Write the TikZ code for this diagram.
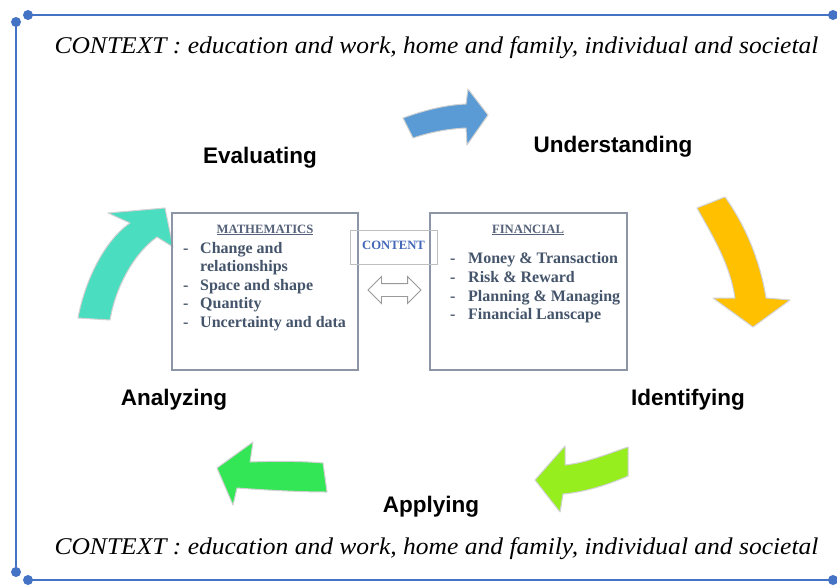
\documentclass[tikz,border=0pt]{standalone}
\usepackage{fontspec}
\setmainfont{Liberation Serif}
\newfontfamily\labelfont{Liberation Sans}
\usetikzlibrary{shapes.arrows}
\definecolor{framec}{HTML}{4472C4}
\definecolor{bluearr}{HTML}{5B9BD5}
\definecolor{orangearr}{HTML}{FFC000}
\definecolor{limearr}{HTML}{96EE1E}
\definecolor{greenarr}{HTML}{33E655}
\definecolor{tealarr}{HTML}{4BDDC0}
\definecolor{itemc}{HTML}{44546A}
\definecolor{headc}{HTML}{55627A}
\definecolor{boxc}{HTML}{8C96A6}
\definecolor{contentc}{HTML}{4468B8}
\begin{document}
\begin{tikzpicture}[x=1pt,y=-1pt,
  frameline/.style={draw=framec, line width=2.5pt},
  framedot/.style={fill=framec},
  arrshape/.style={draw=black!18, line width=1pt, line join=round},
  boxnode/.style={draw=boxc, line width=1.1pt, inner sep=0pt, outer sep=0pt, anchor=north west},
  lbl/.style={font=\labelfont\bfseries\fontsize{22.5}{26}\selectfont, anchor=base, inner sep=0pt},
  ctx/.style={font=\itshape\fontsize{24}{28}\selectfont, anchor=base, inner sep=0pt},
  item/.style={font=\bfseries\fontsize{16}{18.5}\selectfont, text=itemc, anchor=base west, inner sep=0pt},
  head/.style={font=\bfseries\fontsize{12.7}{15}\selectfont, text=headc, anchor=base, inner sep=0pt}
]
\useasboundingbox (0,0) rectangle (837,587);
\fill[white] (0,0) rectangle (837,587);

% frame
\coordinate (tl1) at (16,22);
\coordinate (tl2) at (28,15);
\coordinate (tr) at (833,15);
\coordinate (bl1) at (16,572);
\coordinate (bl2) at (28,580);
\coordinate (br) at (833,580);
\draw[frameline] (tl2) -- (tr);
\draw[frameline] (tl1) -- (bl1);
\draw[frameline] (bl2) -- (br);
\foreach \p in {tl1,tl2,tr,bl1,bl2,br} \fill[framedot] (\p) circle (5);

% context lines
\node[ctx] (ctxtop) at (436.5,53) {\scalebox{1.063}[1]{CONTEXT : education and work, home and family, individual and societal}};
\node[ctx] (ctxbot) at (436.5,554) {\scalebox{1.063}[1]{CONTEXT : education and work, home and family, individual and societal}};

% stage labels
\node[lbl] (eval) at (260,163) {Evaluating};
\node[lbl] (under) at (613,152) {Understanding};
\node[lbl] (ident) at (688,405) {Identifying};
\node[lbl] (anal) at (174,405) {Analyzing};
\node[lbl] (apply) at (431,512) {Applying};

% cycle arrows
\fill[bluearr, arrshape] (403,118) .. controls (425,110) and (445,105) .. (466,104) -- (468,89) -- (488,115) -- (467,145) -- (466,128) .. controls (445,129) and (428,133) .. (413,138) -- cycle;
\fill[orangearr, arrshape] (697,208) .. controls (715,240) and (730,265) .. (735,298) -- (713,298) -- (753,327) -- (790,300) -- (766,298) .. controls (760,260) and (745,225) .. (725,197) -- cycle;
\fill[limearr, arrshape] (628,447) .. controls (605,455) and (585,463) .. (565,465) -- (565,446) -- (535,480) -- (560,512) -- (563,494) .. controls (585,492) and (607,485) .. (628,476) -- cycle;
\fill[greenarr, arrshape] (323,463) .. controls (300,461) and (275,461) .. (250,462) -- (253,442) -- (217,468) -- (233,505) -- (237,488) .. controls (265,490) and (300,492) .. (327,492) -- cycle;
\fill[tealarr, arrshape] (78,318) .. controls (85,280) and (105,240) .. (130,223) -- (108,213) -- (165,208) -- (173,247) -- (157,237) .. controls (132,255) and (115,290) .. (110,320) -- cycle;

% content boxes
\node[boxnode, minimum width=186pt, minimum height=157pt] (math) at (172,213) {};
\node[boxnode, minimum width=197pt, minimum height=157pt] (fin) at (430,213) {};
\node[draw=black!25, line width=1pt, minimum width=87pt, minimum height=34pt, inner sep=0pt] (content) at (393.5,247) {};
\node[font=\bfseries\fontsize{12.7}{15}\selectfont, text=contentc, inner sep=0pt, anchor=base] (contentlbl) at (393.5,249) {CONTENT};
\node[double arrow, draw=black!40, fill=white, line width=0.9pt, inner sep=6pt, minimum height=53pt, minimum width=26pt, double arrow head extend=7pt] (dbl) at (394.5,290) {};

\node[head] (mathhead) at (265,233) {\underline{MATHEMATICS}};
\node[head] (finhead) at (528,233) {\underline{FINANCIAL}};

\foreach \t/\y/\d in {Change and/253/-, relationships/271/, Space and shape/290/-, Quantity/308/-, Uncertainty and data/327/-}{
  \node[item] at (183,\y) {\d};
  \node[item] at (200,\y) {\t};
}
\foreach \t/\y in {Money \& Transaction/263, Risk \& Reward/282, Planning \& Managing/301, Financial Lanscape/319}{
  \node[item] at (450,\y) {-};
  \node[item] at (468,\y) {\t};
}
\end{tikzpicture}
\end{document}
